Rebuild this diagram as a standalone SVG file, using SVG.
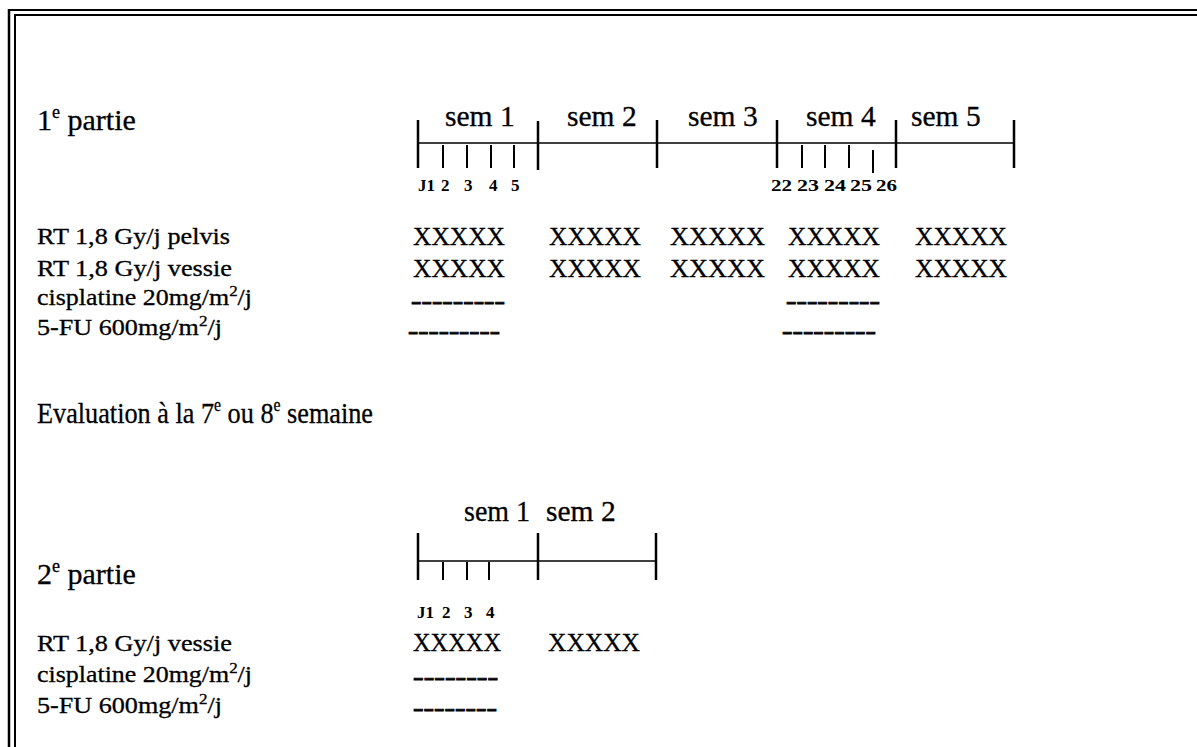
<svg xmlns="http://www.w3.org/2000/svg" width="1197" height="747" viewBox="0 0 1197 747">
<style>
text{font-family:"Liberation Serif","Times New Roman",serif;fill:#000;stroke:#000;stroke-width:0.3}
.h{font-size:30px}
.ev{font-size:30px}
.sem{font-size:29.5px}
.lab{font-size:23px}
.day{font-size:17px;font-weight:bold;stroke-width:0}
.x{font-size:25px}
.d{font-size:22px;font-weight:bold;stroke-width:0.8}
.ax{stroke:#000;stroke-width:1.5;fill:none}
.tk{stroke:#000;stroke-width:2.5;fill:none}
.st{stroke:#000;stroke-width:2;fill:none}
.b{stroke:#000;fill:none}
</style>
<rect width="1197" height="747" fill="#fff"/>
<g id="border">
<line class="b" x1="8" y1="10" x2="1197" y2="10" stroke-width="2"/>
<line class="b" x1="14" y1="15" x2="1197" y2="15" stroke-width="2"/>
<line class="b" x1="9" y1="9" x2="9" y2="747" stroke-width="2.5"/>
<line class="b" x1="15" y1="14" x2="15" y2="747" stroke-width="2"/>
</g>
<g id="part1-title"><text class="h" x="37" y="130">1<tspan dy="-12" font-size="18">e</tspan><tspan dy="12"> partie</tspan></text></g>
<g id="timeline1">
<text class="sem" x="445" y="126">sem 1</text>
<text class="sem" x="567" y="126">sem 2</text>
<text class="sem" x="688" y="126">sem 3</text>
<text class="sem" x="806" y="126">sem 4</text>
<text class="sem" x="911" y="126">sem 5</text>
<line class="ax" x1="418" y1="143" x2="1015" y2="143"/>
<line class="tk" x1="418" y1="120" x2="418" y2="168"/>
<line class="tk" x1="538" y1="121" x2="538" y2="170"/>
<line class="tk" x1="657" y1="120" x2="657" y2="168"/>
<line class="tk" x1="777" y1="120" x2="777" y2="168"/>
<line class="tk" x1="896" y1="120" x2="896" y2="168"/>
<line class="tk" x1="1014" y1="120" x2="1014" y2="168"/>
<line class="st" x1="443" y1="145" x2="443" y2="168"/>
<line class="st" x1="467" y1="145" x2="467" y2="168"/>
<line class="st" x1="491" y1="145" x2="491" y2="168"/>
<line class="st" x1="514" y1="145" x2="514" y2="168"/>
<line class="st" x1="802" y1="145" x2="802" y2="168"/>
<line class="st" x1="825" y1="145" x2="825" y2="168"/>
<line class="st" x1="849" y1="145" x2="849" y2="168"/>
<line class="st" x1="873" y1="150" x2="873" y2="173"/>
<text class="day" x="418" y="191">J1</text>
<text class="day" x="441" y="191">2</text>
<text class="day" x="464" y="191">3</text>
<text class="day" x="489" y="191">4</text>
<text class="day" x="511" y="191">5</text>
<text class="day" x="771" y="191" textLength="21" lengthAdjust="spacingAndGlyphs">22</text>
<text class="day" x="797" y="191" textLength="22" lengthAdjust="spacingAndGlyphs">23</text>
<text class="day" x="824" y="191" textLength="22" lengthAdjust="spacingAndGlyphs">24</text>
<text class="day" x="850" y="191" textLength="22" lengthAdjust="spacingAndGlyphs">25</text>
<text class="day" x="876" y="191" textLength="21" lengthAdjust="spacingAndGlyphs">26</text>
</g>
<g id="part1-rows">
<text class="lab" x="37" y="244" textLength="193" lengthAdjust="spacingAndGlyphs">RT 1,8 Gy/j pelvis</text>
<text class="lab" x="37" y="276" textLength="195" lengthAdjust="spacingAndGlyphs">RT 1,8 Gy/j vessie</text>
<text class="lab" x="37" y="305" textLength="215" lengthAdjust="spacingAndGlyphs">cisplatine 20mg/m<tspan dy="-9" font-size="15">2</tspan><tspan dy="9">/j</tspan></text>
<text class="lab" x="37" y="335" textLength="185" lengthAdjust="spacingAndGlyphs">5-FU 600mg/m<tspan dy="-9" font-size="15">2</tspan><tspan dy="9">/j</tspan></text>
</g>
<g id="part1-schedule">
<text class="x" x="413" y="245" textLength="92" lengthAdjust="spacingAndGlyphs">XXXXX</text>
<text class="x" x="549" y="245" textLength="92" lengthAdjust="spacingAndGlyphs">XXXXX</text>
<text class="x" x="670" y="245" textLength="95" lengthAdjust="spacingAndGlyphs">XXXXX</text>
<text class="x" x="788" y="245" textLength="92" lengthAdjust="spacingAndGlyphs">XXXXX</text>
<text class="x" x="915" y="245" textLength="92" lengthAdjust="spacingAndGlyphs">XXXXX</text>
<text class="x" x="413" y="277" textLength="92" lengthAdjust="spacingAndGlyphs">XXXXX</text>
<text class="x" x="549" y="277" textLength="92" lengthAdjust="spacingAndGlyphs">XXXXX</text>
<text class="x" x="670" y="277" textLength="95" lengthAdjust="spacingAndGlyphs">XXXXX</text>
<text class="x" x="788" y="277" textLength="92" lengthAdjust="spacingAndGlyphs">XXXXX</text>
<text class="x" x="915" y="277" textLength="92" lengthAdjust="spacingAndGlyphs">XXXXX</text>
<text class="d" x="411" y="308" textLength="94" lengthAdjust="spacingAndGlyphs">---------</text>
<text class="d" x="786" y="308" textLength="94" lengthAdjust="spacingAndGlyphs">---------</text>
<text class="d" x="408" y="338" textLength="92" lengthAdjust="spacingAndGlyphs">---------</text>
<text class="d" x="782" y="338" textLength="94" lengthAdjust="spacingAndGlyphs">---------</text>
</g>
<g id="evaluation"><text class="ev" transform="translate(37,423) scale(0.875,1)" x="0" y="0">Evaluation à la 7<tspan dy="-12" font-size="18">e</tspan><tspan dy="12"> ou 8</tspan><tspan dy="-12" font-size="18">e</tspan><tspan dy="12"> semaine</tspan></text></g>
<g id="part2-title"><text class="h" x="37" y="584">2<tspan dy="-12" font-size="18">e</tspan><tspan dy="12"> partie</tspan></text></g>
<g id="timeline2">
<text class="sem" x="464" y="521" textLength="66" lengthAdjust="spacingAndGlyphs">sem 1</text>
<text class="sem" x="546" y="521">sem 2</text>
<line class="ax" x1="418" y1="561" x2="657" y2="561"/>
<line class="tk" x1="418" y1="533" x2="418" y2="580"/>
<line class="tk" x1="538" y1="533" x2="538" y2="580"/>
<line class="tk" x1="656" y1="533" x2="656" y2="580"/>
<line class="st" x1="443" y1="562" x2="443" y2="580"/>
<line class="st" x1="467" y1="562" x2="467" y2="580"/>
<line class="st" x1="489" y1="562" x2="489" y2="580"/>
<text class="day" x="417" y="618">J1</text>
<text class="day" x="442" y="618">2</text>
<text class="day" x="464" y="618">3</text>
<text class="day" x="486" y="618">4</text>
</g>
<g id="part2-rows">
<text class="lab" x="37" y="651" textLength="195" lengthAdjust="spacingAndGlyphs">RT 1,8 Gy/j vessie</text>
<text class="lab" x="37" y="682" textLength="215" lengthAdjust="spacingAndGlyphs">cisplatine 20mg/m<tspan dy="-9" font-size="15">2</tspan><tspan dy="9">/j</tspan></text>
<text class="lab" x="37" y="713" textLength="185" lengthAdjust="spacingAndGlyphs">5-FU 600mg/m<tspan dy="-9" font-size="15">2</tspan><tspan dy="9">/j</tspan></text>
</g>
<g id="part2-schedule">
<text class="x" x="413" y="651" textLength="88" lengthAdjust="spacingAndGlyphs">XXXXX</text>
<text class="x" x="548" y="651" textLength="92" lengthAdjust="spacingAndGlyphs">XXXXX</text>
<text class="d" x="413" y="684" textLength="85" lengthAdjust="spacingAndGlyphs">--------</text>
<text class="d" x="413" y="715" textLength="84" lengthAdjust="spacingAndGlyphs">--------</text>
</g>
</svg>
